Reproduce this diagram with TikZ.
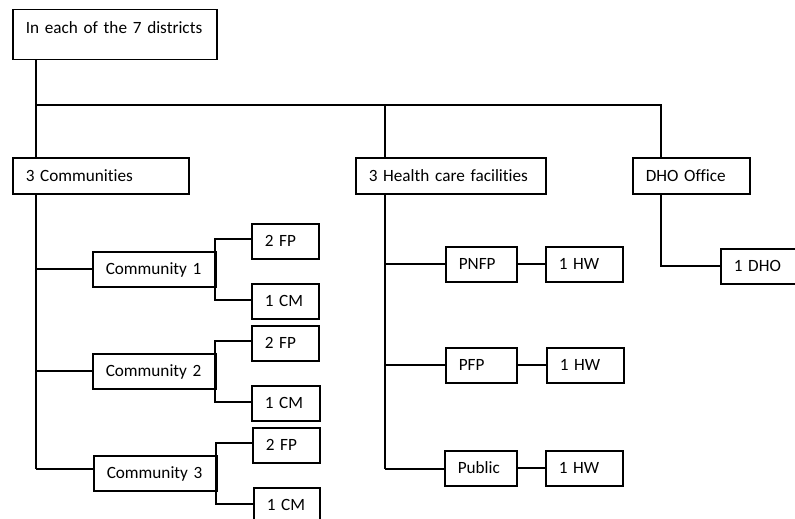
\documentclass[tikz,border=0pt]{standalone}
\usepackage{fontspec}
\setmainfont{Carlito}[Ligatures=NoCommon]
\begin{document}
\begin{tikzpicture}[x=1pt,y=-1pt,
  bx/.style={draw, line width=1.5pt, anchor=north west, inner xsep=13pt, inner ysep=0pt,
    align=left, font=\fontsize{17.2}{20}\selectfont, text height=23pt, text depth=12pt},
  ln/.style={line width=1.6pt}]
\path[use as bounding box] (0,0) rectangle (795,519);
\clip (0,0) rectangle (795,519);
% level 0
\node[bx, text width=178pt, text height=24pt, text depth=26pt] (top) at (12,9) {\mbox{In each of the 7 districts}};
% level 1
\node[bx, text width=150pt, text height=24pt] (comm) at (12,157) {\mbox{3 Communities}};
\node[bx, text width=164pt, text height=24pt] (hcf) at (355,157) {\mbox{3 Health care facilities}};
\node[bx, text width=91pt, text height=24pt] (dho) at (632,157) {\mbox{DHO Office}};
% communities
\node[bx, text width=97pt] (c1) at (92,251) {\mbox{Community 1}};
\node[bx, text width=97pt] (c2) at (92,353) {\mbox{Community 2}};
\node[bx, text width=97pt] (c3) at (93,455) {\mbox{Community 3}};
\node[bx, text width=41pt] (fp1) at (251,223) {\mbox{2 FP}};
\node[bx, text width=41pt] (cm1) at (251,283) {\mbox{1 CM}};
\node[bx, text width=41pt] (fp2) at (251,325) {\mbox{2 FP}};
\node[bx, text width=42pt] (cm2) at (251,385) {\mbox{1 CM}};
\node[bx, text width=41pt] (fp3) at (252,427) {\mbox{2 FP}};
\node[bx, text width=40pt] (cm3) at (253,487) {\mbox{1 CM}};
% health care facilities
\node[bx, text width=45pt] (pnfp) at (445,246) {PNFP};
\node[bx, text width=45pt] (pfp) at (445,347) {PFP};
\node[bx, text width=46pt] (pub) at (444,450) {Public};
\node[bx, text width=51pt] (hw1) at (545,246) {\mbox{1 HW}};
\node[bx, text width=51pt] (hw2) at (546,347) {\mbox{1 HW}};
\node[bx, text width=51pt] (hw3) at (545,450) {\mbox{1 HW}};
% DHO
\node[bx, text width=56pt] (dho1) at (720,248) {\mbox{1 DHO}};
% junction coordinates
\coordinate (j0) at (36,105);
\coordinate (j1) at (385,105);
\coordinate (j2) at (661,105);
\coordinate (cb) at (36,469);
\coordinate (hb) at (385,469);
\coordinate (db) at (661,266);
\coordinate (v1) at (215,239);
\coordinate (w1) at (215,300);
\coordinate (v2) at (215,341);
\coordinate (w2) at (215,402);
\coordinate (v3) at (216,443);
\coordinate (w3) at (216,504);
% connectors
\draw[ln] (top.south -| j0) -- (comm.north -| j0);
\draw[ln] (j0) -- (j2) -- (dho.north -| j2);
\draw[ln] (j1) -- (hcf.north -| j1);
\draw[ln] (comm.south -| cb) -- (cb);
\draw[ln] (c1.west -| cb) -- (c1.west);
\draw[ln] (c2.west -| cb) -- (c2.west);
\draw[ln] (cb) -- (cb -| c3.west);
\draw[ln] (fp1.west |- v1) -- (v1) -- (w1) -- (cm1.west |- w1);
\draw[ln] (fp2.west |- v2) -- (v2) -- (w2) -- (cm2.west |- w2);
\draw[ln] (fp3.west |- v3) -- (v3) -- (w3) -- (cm3.west |- w3);
\draw[ln] (hcf.south -| hb) -- (hb);
\draw[ln] (pnfp.west -| hb) -- (pnfp.west);
\draw[ln] (pfp.west -| hb) -- (pfp.west);
\draw[ln] (hb) -- (hb -| pub.west);
\draw[ln] (pnfp.east) -- (hw1.west);
\draw[ln] (pfp.east) -- (hw2.west);
\draw[ln] (pub.east) -- (hw3.west);
\draw[ln] (dho.south -| db) -- (db) -- (db -| dho1.west);
\end{tikzpicture}
\end{document}
